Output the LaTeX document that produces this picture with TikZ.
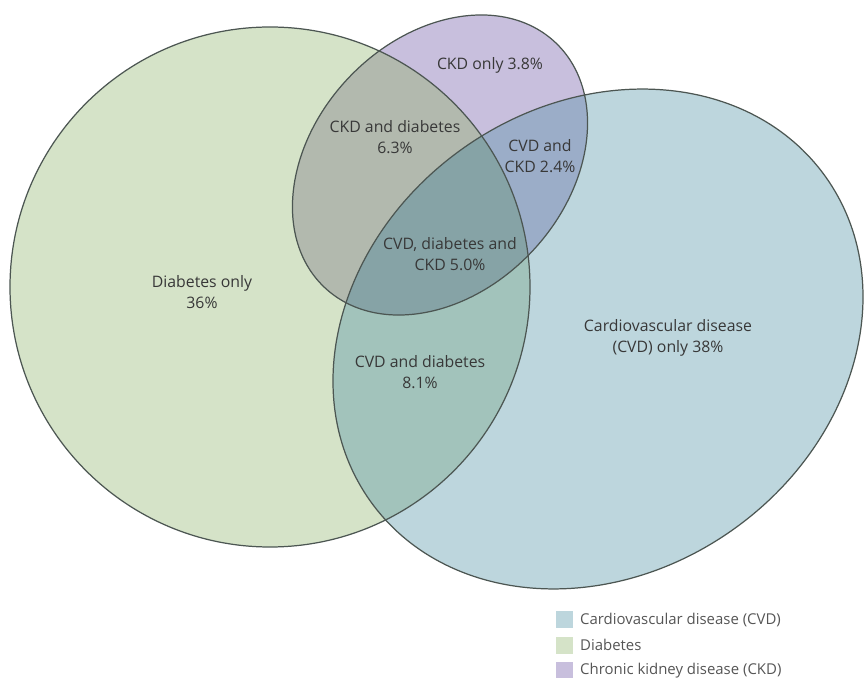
\documentclass[tikz,border=0pt]{standalone}
\usepackage{fontspec}
\setmainfont{Open Sans}
\usetikzlibrary{positioning}
\definecolor{rimink}{HTML}{4C5652}
\definecolor{labink}{HTML}{383838}
\definecolor{keyink}{HTML}{555555}
\definecolor{diabfill}{HTML}{D5E3C8}
\definecolor{cvdfill}{HTML}{BDD6DD}
\definecolor{ckdfill}{HTML}{C8BFDD}
\definecolor{dkfill}{HTML}{B2B9AE}
\definecolor{dcfill}{HTML}{A2C3BB}
\definecolor{ckfill}{HTML}{9BADC8}
\definecolor{allfill}{HTML}{86A3A6}

\begin{document}
\begin{tikzpicture}[
  x=0.2mm, y=-0.2mm,
  font=\fontsize{9}{12.2}\selectfont,
  cvdel/.style={shift={(598,339)}, rotate=35.4},
  ckdel/.style={shift={(440,165)}, rotate=46.7},
  rim/.style={draw=rimink, line width=0.7pt},
  lab/.style={text=labink, align=center, inner sep=0pt},
  legbox/.style={minimum size=3.4mm, inner sep=0pt},
  legtext/.style={text=keyink, inner sep=0pt, anchor=west,
                  font=\fontsize{8.5}{10}\selectfont}]

%% lienzo fijo: 865 x 678 px, con y hacia abajo
\useasboundingbox (0,0) rectangle (865,678);

%% ---- rellenos de cada conjunto ----
\fill[diabfill] (270,287) circle [radius=260];
\fill[cvdfill, cvdel] (0,0) ellipse [x radius=279.5, y radius=233.6];
\fill[ckdfill, ckdel] (0,0) ellipse [x radius=168.3, y radius=126.3];

%% ---- intersecciones, recortadas ----
\begin{scope}
  \clip (270,287) circle [radius=260];
  \fill[dcfill, cvdel] (0,0) ellipse [x radius=279.5, y radius=233.6];
  \fill[dkfill, ckdel] (0,0) ellipse [x radius=168.3, y radius=126.3];
\end{scope}
\begin{scope}
  \clip[cvdel] (0,0) ellipse [x radius=279.5, y radius=233.6];
  \fill[ckfill, ckdel] (0,0) ellipse [x radius=168.3, y radius=126.3];
\end{scope}
\begin{scope}
  \clip (270,287) circle [radius=260];
  \clip[cvdel] (0,0) ellipse [x radius=279.5, y radius=233.6];
  \fill[allfill, ckdel] (0,0) ellipse [x radius=168.3, y radius=126.3];
\end{scope}

%% ---- bordes ----
\draw[rim] (270,287) circle [radius=260];
\draw[rim, cvdel] (0,0) ellipse [x radius=279.5, y radius=233.6];
\draw[rim, ckdel] (0,0) ellipse [x radius=168.3, y radius=126.3];

%% ---- etiquetas ----
\node[lab] (ckdonly) at (490,65)  {CKD only 3.8\%};
\node[lab] (ckddiab) at (395,137) {CKD and diabetes\\6.3\%};
\node[lab] (cvdckd)  at (540,156) {CVD and\\CKD 2.4\%};
\node[lab] (triple)  at (450,254) {CVD, diabetes and\\CKD 5.0\%};
\node[lab] (diabonly) at (202,292) {Diabetes only\\36\%};
\node[lab] (cvddiab) at (420,372) {CVD and diabetes\\8.1\%};
\node[lab] (cvdonly) at (668,338) {Cardiovascular disease\\(CVD) only 38\%};

%% ---- leyenda ----
\node[legbox, fill=cvdfill] (kcvd) at (564,620) {};
\node[legbox, fill=diabfill, below=1.5mm of kcvd] (kdiab) {};
\node[legbox, fill=ckdfill, below=1.5mm of kdiab] (kckd) {};
\node[legtext, right=1.4mm of kcvd]  (tcvd)  {Cardiovascular disease (CVD)};
\node[legtext, right=1.4mm of kdiab] (tdiab) {Diabetes};
\node[legtext, right=1.4mm of kckd]  (tckd)  {Chronic kidney disease (CKD)};

\end{tikzpicture}
\end{document}
